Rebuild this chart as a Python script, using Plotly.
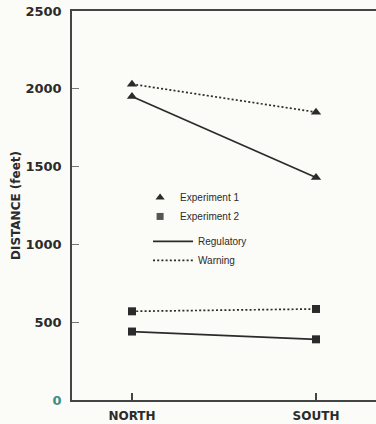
import plotly.graph_objects as go

categories = ["NORTH", "SOUTH"]
exp1_regulatory = [1950, 1430]
exp1_warning = [2030, 1850]
exp2_regulatory = [440, 390]
exp2_warning = [570, 585]
y_ticks = [0, 500, 1000, 1500, 2000, 2500]
y_ticktext = ["<span style='color:#3f8c84'>0</span>", "500", "1000", "1500", "2000", "2500"]

ink = "#2b2b2b"
dotdash = "2px,2.2px"
fig = go.Figure()

def add(y, symbol, dash):
    fig.add_trace(go.Scatter(
        x=categories, y=y, mode="lines+markers",
        line=dict(color=ink, width=1.7, dash=dash),
        marker=dict(symbol=symbol, size=8 if symbol == "square" else 9, color=ink),
        showlegend=False,
    ))

add(exp1_regulatory, "triangle-up", "solid")
add(exp1_warning, "triangle-up", dotdash)
add(exp2_regulatory, "square", "solid")
add(exp2_warning, "square", dotdash)

# legend entries
fig.add_trace(go.Scatter(x=[None], y=[None], mode="markers", name="Experiment 1",
                         marker=dict(symbol="triangle-up", size=8, color=ink), legend="legend"))
fig.add_trace(go.Scatter(x=[None], y=[None], mode="markers", name="Experiment 2",
                         marker=dict(symbol="square", size=7, color="#555"), legend="legend"))
fig.add_trace(go.Scatter(x=[None], y=[None], mode="lines", name="Regulatory",
                         line=dict(color=ink, width=1.7), legend="legend2"))
fig.add_trace(go.Scatter(x=[None], y=[None], mode="lines", name="Warning",
                         line=dict(color=ink, width=1.7, dash=dotdash), legend="legend2"))

legfont = dict(size=10, family="Liberation Sans, Arial", color=ink)
fig.update_layout(
    width=376, height=424,
    margin=dict(l=72, r=0, t=11, b=24, autoexpand=False),
    paper_bgcolor="#fbfbf7", plot_bgcolor="#fbfbf7",
    font=dict(family="DejaVu Sans", color=ink),
    legend=dict(x=0.224, y=0.558, xanchor="left", yanchor="top",
                bgcolor="rgba(0,0,0,0)", font=legfont,
                tracegroupgap=0, itemwidth=30),
    legend2=dict(x=0.25, y=0.445, xanchor="left", yanchor="top",
                 bgcolor="rgba(0,0,0,0)", font=legfont,
                 tracegroupgap=0, itemwidth=40),
    xaxis=dict(
        type="category", range=[-0.326, 1.326], automargin=False,
        showline=True, linecolor="#444", linewidth=1.5, mirror=True,
        ticks="inside", ticklen=7, tickwidth=1.5, tickcolor="#444",
        showgrid=False, zeroline=False, ticklabelstandoff=4,
        tickfont=dict(size=12, family="DejaVu Sans", weight="bold"),
    ),
    yaxis=dict(
        range=[0, 2500], tickvals=y_ticks, ticktext=y_ticktext, automargin=False,
        showline=True, linecolor="#444", linewidth=1.5,
        ticks="inside", ticklen=7, tickwidth=1, tickcolor="#777",
        showgrid=False, zeroline=False, ticklabelstandoff=6,
        tickfont=dict(size=13, family="DejaVu Sans", weight="bold"),
        title=dict(text="DISTANCE (feet)", font=dict(size=12, weight="bold"), standoff=2),
    ),
)

fig.write_html("out.html", config={"displayModeBar": False},
               post_script="document.body.style.margin='0';document.body.style.background='#fbfbf7';")
